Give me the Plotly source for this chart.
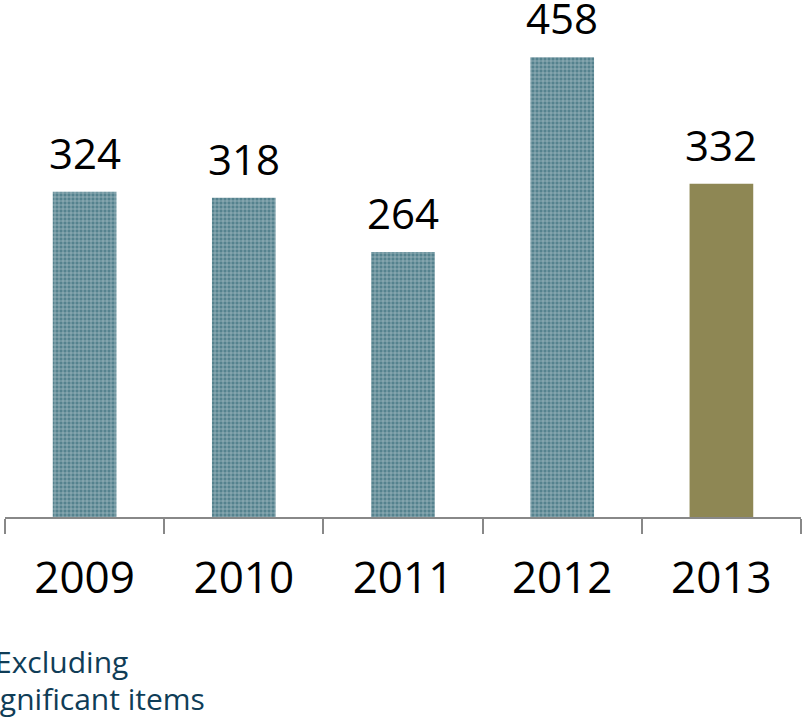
import plotly.graph_objects as go

years = ["2009", "2010", "2011", "2012", "2013"]
values = [324, 318, 264, 458, 332]
bar_colors = ["#55828e", "#55828e", "#55828e", "#55828e", "#8e8754"]
pattern_shapes = ["+", "+", "+", "+", ""]
note_lines = ["Excluding", "significant items"]

FONT = "Open Sans, sans-serif"

W, H = 802, 722
ML, MR, MT, MB = 5, 1, 15, 205
plot_h = H - MT - MB

fig = go.Figure()
fig.add_trace(go.Bar(
    x=years, y=values,
    width=0.4,
    marker=dict(
        color=bar_colors,
        line=dict(width=0),
        pattern=dict(shape=pattern_shapes, fgcolor="#93b8bf", bgcolor=bar_colors,
                     size=4, solidity=0.3, fillmode="overlay"),
    ),
    hoverinfo="skip",
))

for i, v in enumerate(values):
    fig.add_annotation(x=i, y=v, text=str(v), showarrow=False,
                       yanchor="bottom", yshift=9,
                       font=dict(family=FONT, size=42, color="#000000"))

def px_x(p):
    return (p - ML) / (W - ML - MR)

def px_y(p):
    return (H - MB - p) / plot_h

fig.add_annotation(xref="paper", yref="paper", x=px_x(-7), y=px_y(661),
                   xanchor="left", yanchor="middle", text=note_lines[0], showarrow=False,
                   font=dict(family=FONT, size=30, color="#0f3d57"))
fig.add_annotation(xref="paper", yref="paper", x=px_x(-24), y=px_y(698),
                   xanchor="left", yanchor="middle", text=note_lines[1], showarrow=False,
                   font=dict(family=FONT, size=30, color="#0f3d57"))

fig.update_layout(
    width=W, height=H,
    margin=dict(l=ML, r=MR, t=MT, b=MB),
    paper_bgcolor="white", plot_bgcolor="white",
    showlegend=False,
    xaxis=dict(type="category", range=[-0.5, 4.5], showline=True, linecolor="#888888",
               linewidth=2, ticks="outside", ticklen=15, tickwidth=2, tickcolor="#888888",
               tickson="boundaries", showgrid=False, zeroline=False,
               tickfont=dict(family=FONT, size=44, color="#000000"), ticklabelstandoff=21),
    yaxis=dict(range=[0, 500], visible=False, showgrid=False, zeroline=False),
)

fig.write_html("out.html")
